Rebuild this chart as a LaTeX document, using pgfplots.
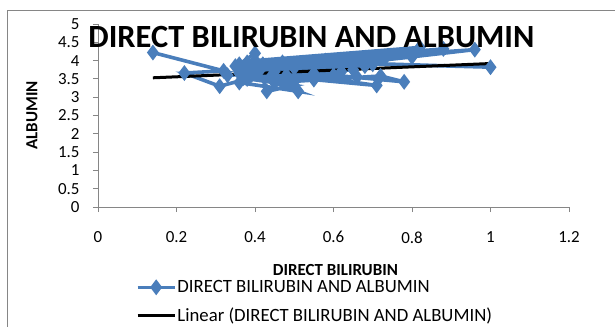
\documentclass[border=0pt]{standalone}
\usepackage{pgfplots}
\pgfplotsset{compat=1.18}
\usepackage{fontspec}
\setmainfont{Carlito}
\definecolor{xlblue}{HTML}{4A7EBB}
\definecolor{axgray}{HTML}{868686}
\begin{document}
\begin{tikzpicture}
\path[use as bounding box] (0bp,0bp) rectangle (615bp,327bp);
\draw[axgray, line width=0.8bp] (7bp,0bp) -- (7bp,317bp) -- (615bp,317bp);
\begin{axis}[
  at={(98bp,120bp)}, anchor=south west,
  scale only axis, width=471bp, height=183bp,
  xmin=0, xmax=1.2, ymin=0, ymax=5,
  xtick={0,0.2,...,1.2}, ytick={0,0.5,...,5},
  axis x line*=bottom, axis y line*=left,
  axis line style={-, axgray, line width=0.8bp},
  tick style={axgray, line width=0.8bp},
  tick align=outside, major tick length=5bp,
  /pgf/number format/assume math mode=true,
  ticklabel style={font=\fontsize{17}{17}\selectfont},
  xticklabel style={yshift=-16bp},
  yticklabel style={xshift=-10bp},
  title={DIRECT BILIRUBIN AND ALBUMIN},
  title style={at={(0.453,0.896)}, anchor=center, font=\fontsize{32.5}{32.5}\selectfont\bfseries},
  xlabel={DIRECT BILIRUBIN},
  ylabel={ALBUMIN},
  xlabel style={at={(0.504,-0.343)}, anchor=center, inner sep=0pt, font=\fontsize{17}{17}\selectfont\bfseries},
  ylabel style={at={(-0.14,0.5)}, anchor=center, rotate=0, font=\fontsize{17}{17}\selectfont\bfseries},
  legend style={at={(0.08,-0.395)}, anchor=north west, draw=none, fill=none, inner sep=0pt,
    row sep=12bp, font=\fontsize{18.8}{18.8}\selectfont, nodes={inner sep=1bp}},
  legend image code/.code={%
    \draw[mark repeat=2,mark phase=2,#1] plot coordinates {(0bp,0bp) (18.5bp,0bp) (37bp,0bp)};},
  legend cell align=left,
  clip=false,
]
\addplot[xlblue, line width=3.6bp, mark=diamond*, mark size=5bp, mark options={solid}]
coordinates {
(0.14,4.22) (0.32,3.72) (0.22,3.66) (0.31,3.3) (0.38,3.5) (0.36,3.9) (0.4,4.2)
(0.43,3.16) (0.5,3.32) (0.37,3.52) (0.55,3.48) (0.71,3.32) (0.4,3.8) (0.88,4.32)
(0.35,3.85) (0.78,3.42) (0.72,3.58) (0.45,3.4) (0.51,3.16) (0.36,3.4) (0.6,3.95)
(1.0,3.82) (0.4,4.0) (0.82,4.36) (0.38,3.7) (0.7,3.9) (0.33,3.6) (0.65,3.75)
(0.42,3.9) (0.96,4.3) (0.39,3.6) (0.6,3.6) (0.45,3.7) (0.8,4.1) (0.5,3.8)
(0.36,3.65) (0.62,3.7) (0.44,3.55) (0.68,3.85) (0.47,3.95) (0.73,4.05) (0.55,3.65)
(0.38,3.95) (0.58,4.0) (0.48,3.6) (0.66,3.55) (0.41,3.7)
};
\addlegendentry{DIRECT BILIRUBIN AND ALBUMIN}
\addplot[black, line width=3bp, no marks] coordinates {(0.14,3.53) (1.0,3.92)};
\addlegendentry{Linear (DIRECT BILIRUBIN AND ALBUMIN)}
\end{axis}
\end{tikzpicture}
\end{document}
